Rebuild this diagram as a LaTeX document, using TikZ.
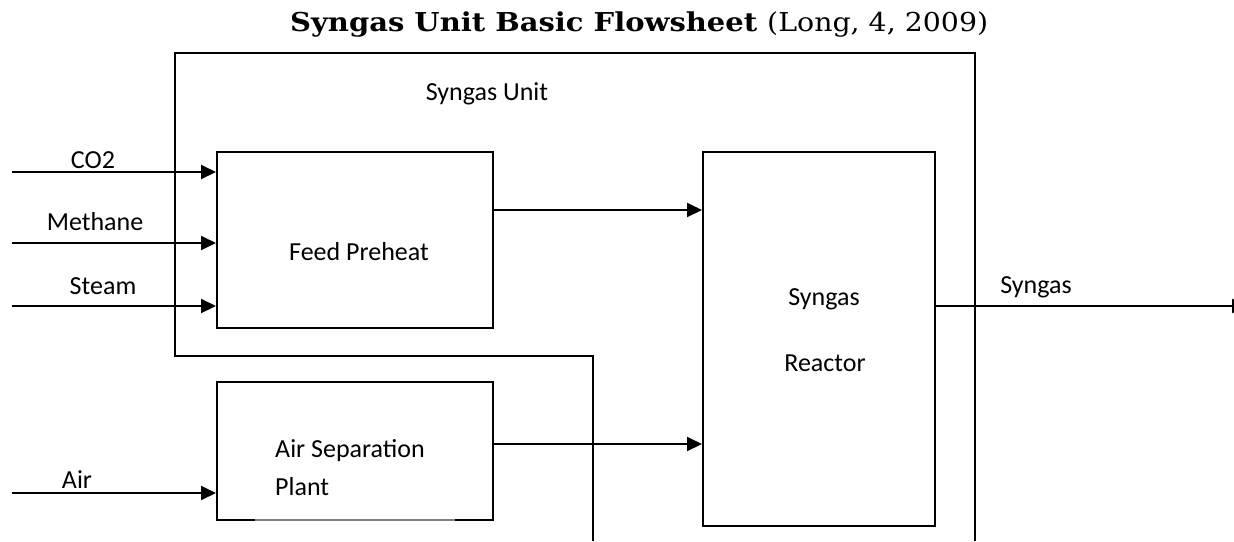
\documentclass[tikz,border=0pt]{standalone}
\usepackage{fontspec}
\setmainfont{Carlito}
\newfontfamily\titlefont{DejaVu Serif}
\usetikzlibrary{arrows.meta}
\begin{document}
\begin{tikzpicture}[x=1pt,y=-1pt,
  lbl/.style={inner sep=0pt,font=\fontsize{26}{30}\selectfont},
  unitbox/.style={draw,line width=2pt,inner sep=0pt},
  flow/.style={line width=2pt,-{Triangle[length=15pt,width=14pt]}},
  wall/.style={line width=2pt}]
\useasboundingbox (0,0) rectangle (1234,541);
\clip (0,0) rectangle (1234,541);
% title
\node[inner sep=0pt,anchor=base west] (title) at (290,31)
  {\titlefont\fontsize{26}{30}\selectfont\resizebox{467pt}{\height}{\textbf{Syngas Unit Basic Flowsheet}}\hspace{10pt}\resizebox{221pt}{\height}{(Long, 4, 2009)}};
% boxes
\node[unitbox,minimum width=276pt,minimum height=176pt] (feed) at (355,240) {};
\node[unitbox,minimum width=276pt,minimum height=138pt] (asp) at (355,451) {};
\node[unitbox,minimum width=232pt,minimum height=374pt] (reac) at (819,339) {};
\draw[line width=2pt,gray] (255,520) -- (455,520);
% outer boundary
\coordinate (b1) at (593,541);
\coordinate (b2) at (593,356);
\coordinate (b3) at (175,356);
\coordinate (b4) at (175,53);
\coordinate (b5) at (975,53);
\coordinate (b6) at (975,541);
\draw[wall,line join=miter] (b1) -- (b2) -- (b3) -- (b4) -- (b5) -- (b6);
% texts
\node[lbl] (unitlbl) at (487,94) {Syngas Unit};
\node[lbl] (co2lbl) at (93,160) {CO2};
\node[lbl] (methlbl) at (95,222) {Methane};
\node[lbl] (steamlbl) at (103,286) {Steam};
\node[lbl] (airlbl) at (77,480) {Air};
\node[lbl] (feedlbl) at (359,252) {Feed Preheat};
\node[lbl,anchor=base west] (asplbl1) at (275,457) {Air Separation};
\node[lbl,anchor=base west] (asplbl2) at (275,495) {Plant};
\node[lbl] (reaclbl1) at (824,299) {Syngas};
\node[lbl] (reaclbl2) at (825,363) {Reactor};
\node[lbl] (outlbl) at (1036,287) {Syngas};
% inlet coordinates
\coordinate (co2in) at (12,172);
\coordinate (methin) at (12,243);
\coordinate (steamin) at (12,306);
\coordinate (airin) at (12,493);
\coordinate (out) at (1247,306);
% connectors
\draw[flow] (co2in) -- (co2in -| feed.west);
\draw[flow] (methin) -- (methin -| feed.west);
\draw[flow] (steamin) -- (steamin -| feed.west);
\draw[flow] (airin) -- (airin -| asp.west);
\draw[flow] (feed.east |- 0,210) -- (reac.west |- 0,210);
\draw[flow] (asp.east |- 0,444) -- (reac.west |- 0,444);
\draw[flow] (reac.east |- out) -- (out);
\end{tikzpicture}
\end{document}
